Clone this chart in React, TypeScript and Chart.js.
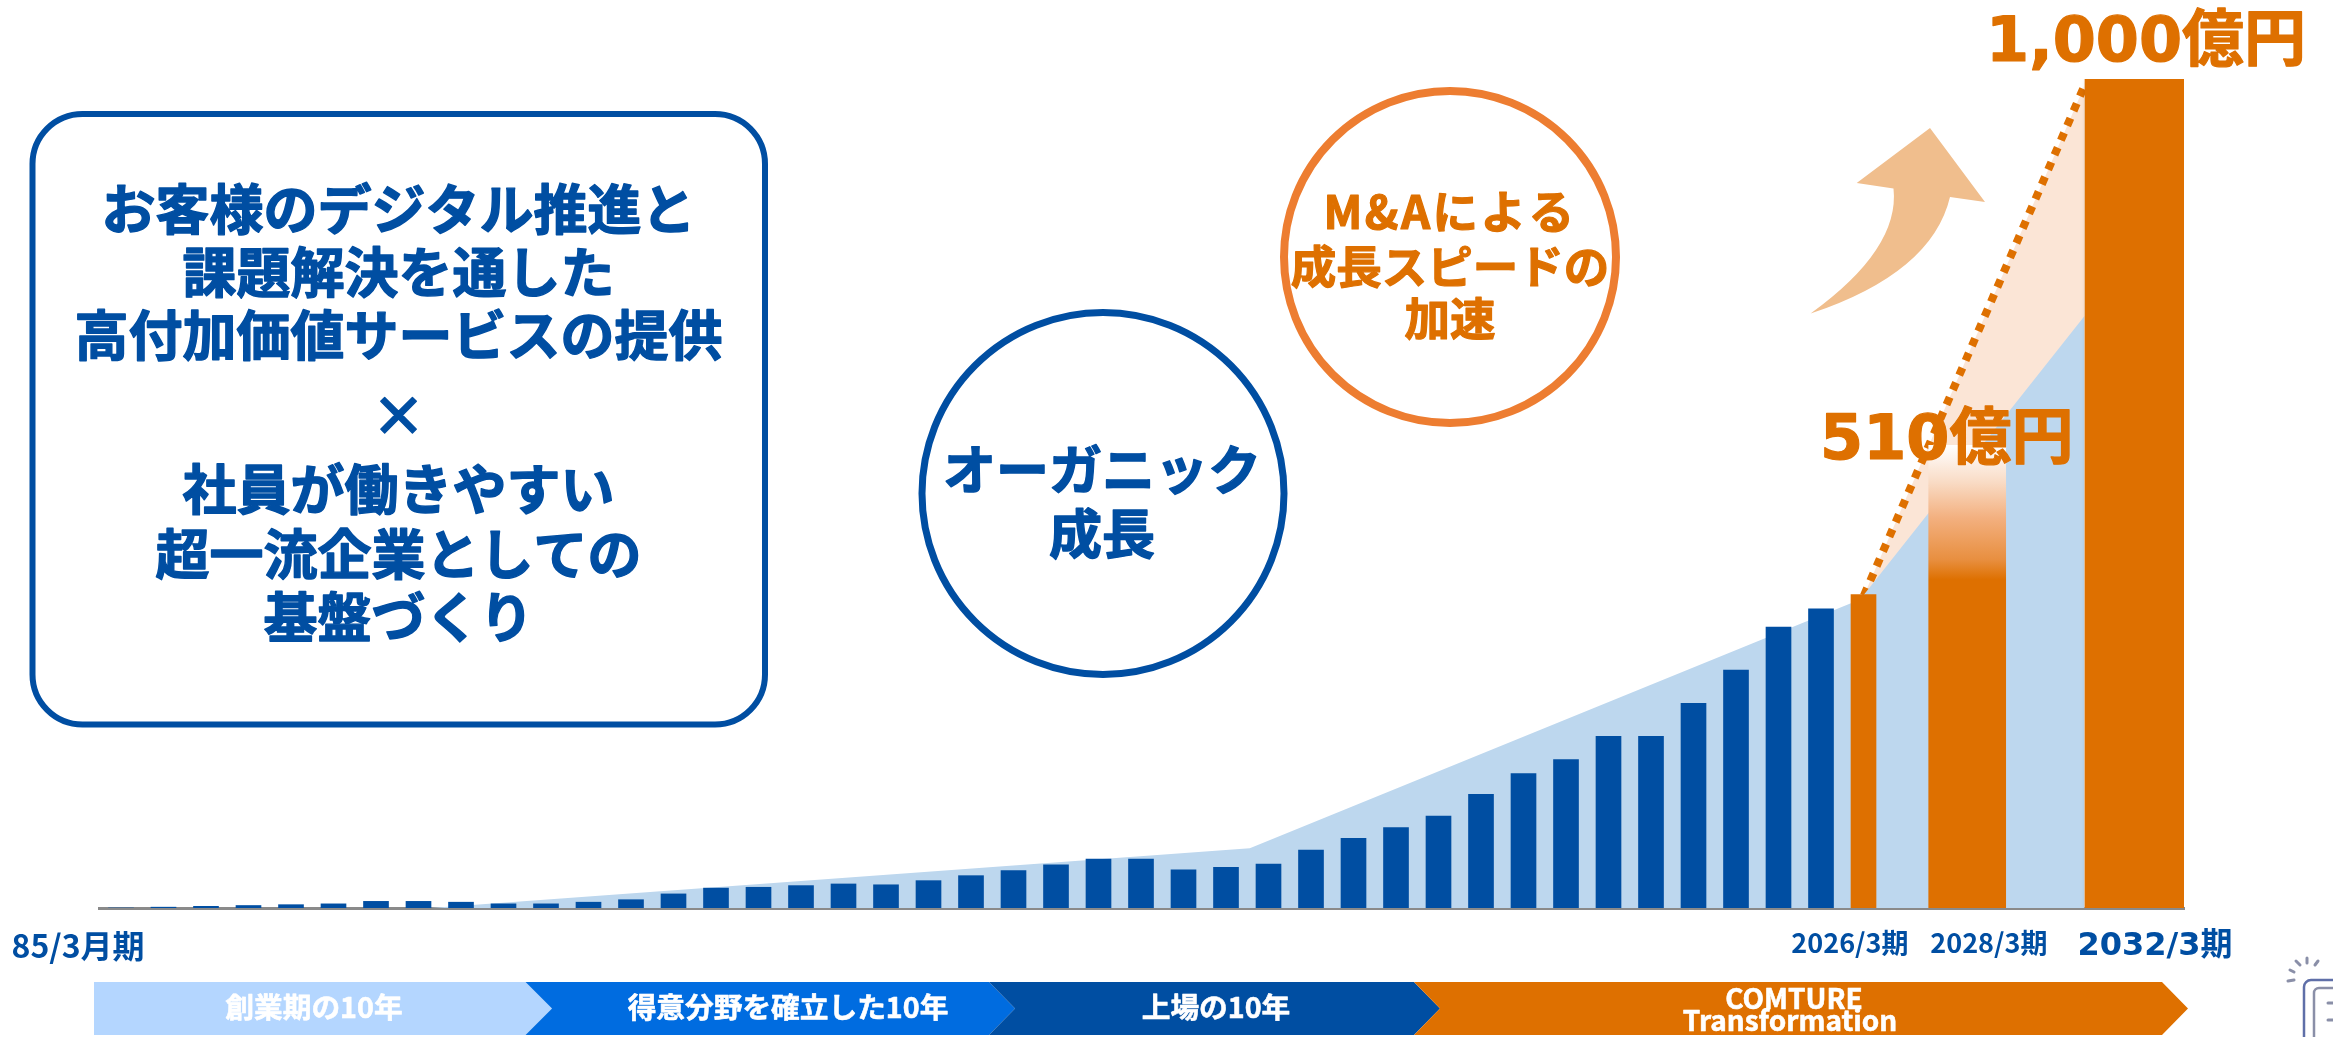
import React, { useEffect, useRef } from "react";
import Chart from "chart.js/auto";

const WIDTH = 2333;
const HEIGHT = 1037;

// Net sales per fiscal year ending in March, 1985 to 2025, in 億円
const fiscalYears = [
  1985, 1986, 1987, 1988, 1989, 1990, 1991, 1992, 1993, 1994, 1995, 1996, 1997, 1998,
  1999, 2000, 2001, 2002, 2003, 2004, 2005, 2006, 2007, 2008, 2009, 2010, 2011, 2012,
  2013, 2014, 2015, 2016, 2017, 2018, 2019, 2020, 2021, 2022, 2023, 2024, 2025,
];
const historicalSales = [
  0, 1, 2, 3, 4, 5, 8, 8, 7, 5, 5, 7, 10, 17,
  24, 25, 27, 29, 28, 33, 39, 45, 52, 59, 59, 46, 49, 53,
  70, 84, 97, 111, 137, 162, 179, 207, 207, 247, 287, 339, 361,
];
const sales2026 = 378;
const target2028 = 510;
const target2032 = 1000;

// Axis slots: one slot per year up to 2026, the years beyond it are compressed
const slot2026 = 41;
const slot2028 = 43.44;
const slot2032 = 47.376;
const axisMinSlot = -0.5176;
const axisMaxSlot = 48.541;

// The soft fade that rises above the 2028 column
const fadeAbove2028 = 48;
const gradientFloor2028 = 396;

// Organic growth band
const organicBandSlots = [7.29, 26.56, 40.92, 46.2];
const organicBandValues = [0, 72, 372, 714];
// M&A growth ramp
const acquisitionRampSlots = [41.01, 46.2];
const acquisitionRampValues = [377, 992];

const periodTickSlots = [-1.01, 40.68, 43.95, 47.86];
const periodTickLabels = ["85/3月期", "2026/3期", "2028/3期", "2032/3期"];

const messageLines = [
  "お客様のデジタル推進と",
  "課題解決を通した",
  "高付加価値サービスの提供",
  "×",
  "社員が働きやすい",
  "超一流企業としての",
  "基盤づくり",
];
const organicLines = ["オーガニック", "成長"];
const acquisitionLines = ["M&Aによる", "成長スピードの", "加速"];
const stageLabels = ["創業期の10年", "得意分野を確立した10年", "上場の10年"];
const transformationLines = ["COMTURE", "Transformation"];
const targetLabels = ["510億円", "1,000億円"];

const BLUE = "#004EA2";
const ORANGE = "#DE7000";
const RING_ORANGE = "#ED7D31";
const LIGHT_BLUE = "#BDD7EE";
const PEACH = "#FBE5D6";
const JP = '"Noto Sans CJK JP"';
const LATIN_JP = '"DejaVu Sans", "Noto Sans CJK JP"';

function fadedColumn(context: any) {
  const y = context.chart.scales.y;
  if (!y) return ORANGE;
  const top = y.getPixelForValue(target2028 + fadeAbove2028);
  const bottom = y.getPixelForValue(gradientFloor2028);
  if (!Number.isFinite(top) || !Number.isFinite(bottom)) return ORANGE;
  const g = context.chart.ctx.createLinearGradient(0, top, 0, bottom);
  g.addColorStop(0, "#FFFFFF");
  g.addColorStop(0.27, "#F9DCC6");
  g.addColorStop(0.54, "#F3B07F");
  g.addColorStop(0.85, "#E88F40");
  g.addColorStop(1, ORANGE);
  return g;
}

function pairs(xs: number[], ys: number[]) {
  return xs.map((x, i) => ({ x, y: ys[i] }));
}

// Heavy headline text: a thin stroke thickens the bold face
function heavyText(ctx: CanvasRenderingContext2D, text: string, x: number, y: number, weight: number) {
  ctx.lineWidth = weight;
  ctx.lineJoin = "round";
  ctx.strokeText(text, x, y);
  ctx.fillText(text, x, y);
}

function chevron(
  ctx: CanvasRenderingContext2D,
  left: number,
  notch: number,
  right: number,
  tip: number,
  color: string,
) {
  const top = 982;
  const bottom = 1035;
  const mid = (top + bottom) / 2;
  ctx.fillStyle = color;
  ctx.beginPath();
  ctx.moveTo(left, top);
  ctx.lineTo(right, top);
  ctx.lineTo(tip, mid);
  ctx.lineTo(right, bottom);
  ctx.lineTo(left, bottom);
  if (notch > left) ctx.lineTo(notch, mid);
  ctx.closePath();
  ctx.fill();
}

// Callout box, growth rings, target labels, arrow and the stage ribbon
const overlayPlugin = {
  id: "overlay",
  afterDatasetsDraw(chart: any) {
    const ctx: CanvasRenderingContext2D = chart.ctx;
    ctx.save();

    ctx.strokeStyle = BLUE;
    ctx.lineWidth = 6;
    ctx.beginPath();
    ctx.roundRect(32.5, 114, 732.5, 610.5, 50);
    ctx.stroke();

    ctx.textAlign = "center";
    ctx.textBaseline = "middle";
    ctx.fillStyle = BLUE;
    ctx.font = `bold 54px ${JP}`;
    const messageRows = [209, 272, 335, 415, 489, 554, 617];
    messageLines.forEach((line, i) => heavyText(ctx, line, 398.5, messageRows[i], 1.4));

    ctx.lineWidth = 7;
    ctx.beginPath();
    ctx.arc(1103, 493.5, 181, 0, Math.PI * 2);
    ctx.stroke();
    ctx.font = `bold 53px ${JP}`;
    const organicRows = [470, 534];
    organicLines.forEach((line, i) => heavyText(ctx, line, 1102, organicRows[i], 1.4));

    ctx.strokeStyle = RING_ORANGE;
    ctx.lineWidth = 8;
    ctx.beginPath();
    ctx.arc(1450, 257, 166, 0, Math.PI * 2);
    ctx.stroke();
    ctx.fillStyle = ORANGE;
    ctx.strokeStyle = ORANGE;
    ctx.font = `bold 45.5px ${JP}`;
    const acquisitionRows = [212, 267, 319];
    acquisitionLines.forEach((line, i) => {
      (ctx as any).letterSpacing = i === 0 ? "2.5px" : "0px";
      heavyText(ctx, line, 1450, acquisitionRows[i], 1.2);
    });
    (ctx as any).letterSpacing = "0px";

    ctx.fillStyle = "#F0BE8D";
    ctx.beginPath();
    ctx.moveTo(1930, 128);
    ctx.lineTo(1985, 202);
    ctx.lineTo(1950, 197);
    ctx.quadraticCurveTo(1932, 273, 1810.6, 313.6);
    ctx.quadraticCurveTo(1900, 249, 1893.5, 188.6);
    ctx.lineTo(1856.7, 183);
    ctx.closePath();
    ctx.fill();

    ctx.fillStyle = ORANGE;
    ctx.textAlign = "left";
    ctx.textBaseline = "alphabetic";
    ctx.font = `bold 62px ${LATIN_JP}`;
    heavyText(ctx, targetLabels[0], 1820, 459, 1.2);
    heavyText(ctx, targetLabels[1], 1986, 61, 1.2);

    chevron(ctx, 94, 94, 525.5, 552, "#B4D6FF");
    chevron(ctx, 525.5, 552, 989, 1015, "#006CE0");
    chevron(ctx, 989, 1015, 1414, 1440, BLUE);
    chevron(ctx, 1414, 1440, 2162, 2188, ORANGE);

    ctx.fillStyle = "#FFFFFF";
    ctx.strokeStyle = "#FFFFFF";
    ctx.textAlign = "center";
    ctx.textBaseline = "middle";
    ctx.font = `bold 28.7px ${JP}`;
    heavyText(ctx, stageLabels[0], 314, 1007, 0.6);
    heavyText(ctx, stageLabels[1], 788, 1007, 0.6);
    heavyText(ctx, stageLabels[2], 1216, 1007, 0.6);
    ctx.font = `bold 28px ${JP}`;
    heavyText(ctx, transformationLines[0], 1794, 998, 0.6);
    heavyText(ctx, transformationLines[1], 1790, 1020, 0.6);

    // Partly visible emblem at the page corner
    ctx.strokeStyle = "#5F6FA8";
    ctx.lineWidth = 2.5;
    ctx.beginPath();
    ctx.roundRect(2304, 980, 60, 90, 7);
    ctx.stroke();
    ctx.strokeStyle = "#8A8FA8";
    ctx.beginPath();
    ctx.roundRect(2314, 988, 50, 70, 5);
    ctx.stroke();
    ctx.lineWidth = 3;
    ctx.lineCap = "round";
    [
      [2296, 961, 2300, 965],
      [2307, 958, 2307, 963],
      [2318, 961, 2315, 965],
      [2290, 970, 2294, 972],
      [2288, 981, 2294, 980],
      [2328, 1003, 2333, 1003],
      [2328, 1020, 2333, 1020],
    ].forEach(([a, b, c, d]) => {
      ctx.beginPath();
      ctx.moveTo(a, b);
      ctx.lineTo(c, d);
      ctx.stroke();
    });

    ctx.restore();
  },
};

// A faint drop shadow behind the 2032 column
const columnShadowPlugin = {
  id: "columnShadow",
  beforeDatasetDraw(chart: any, args: any) {
    if (chart.data.datasets[args.index].label !== "2032") return;
    const ctx = chart.ctx;
    ctx.save();
    ctx.shadowColor = "rgba(0,0,0,0.4)";
    ctx.shadowBlur = 6;
    ctx.shadowOffsetX = 3;
    ctx.shadowOffsetY = 1;
  },
  afterDatasetDraw(chart: any, args: any) {
    if (chart.data.datasets[args.index].label !== "2032") return;
    chart.ctx.restore();
  },
};

export default function App() {
  const ref = useRef<HTMLCanvasElement>(null);

  useEffect(() => {
    document.body.style.margin = "0";
    const bars = { type: "bar" as const, grouped: false, stack: "sales", borderWidth: 0, order: 1 };
    const chart = new Chart(ref.current!, {
      data: {
        datasets: [
          {
            ...bars,
            label: "実績",
            barThickness: 25,
            backgroundColor: BLUE,
            data: pairs(fiscalYears.map((_, i) => i), historicalSales),
          },
          {
            ...bars,
            label: "2026",
            barThickness: 25,
            backgroundColor: ORANGE,
            data: [{ x: slot2026, y: sales2026 }],
          },
          {
            ...bars,
            label: "2028",
            barThickness: 77,
            backgroundColor: fadedColumn,
            data: [{ x: slot2028, y: target2028 }],
          },
          {
            ...bars,
            label: "2028 fade",
            barThickness: 77,
            backgroundColor: fadedColumn,
            data: [{ x: slot2028, y: fadeAbove2028 }],
          },
          {
            ...bars,
            label: "2032",
            barThickness: 99,
            backgroundColor: ORANGE,
            data: [{ x: slot2032, y: target2032 }],
          },
          {
            type: "line" as const,
            label: "organic",
            order: 2,
            data: pairs(organicBandSlots, organicBandValues),
            borderWidth: 0,
            pointRadius: 0,
            tension: 0,
            fill: "origin",
            backgroundColor: LIGHT_BLUE,
          },
          {
            type: "line" as const,
            label: "acquisition",
            order: 3,
            data: pairs(acquisitionRampSlots, acquisitionRampValues),
            borderColor: ORANGE,
            borderWidth: 8,
            borderDash: [8, 8],
            pointRadius: 0,
            tension: 0,
            fill: "origin",
            backgroundColor: PEACH,
          },
        ],
      },
      options: {
        responsive: false,
        animation: false,
        layout: { padding: { top: 79, left: 99, right: 149, bottom: 69 } },
        plugins: { legend: { display: false }, tooltip: { enabled: false } },
        scales: {
          x: {
            type: "linear",
            offset: false,
            min: axisMinSlot,
            max: axisMaxSlot,
            grid: { display: false, offset: false },
            border: { display: true, color: "#8A8A8A", width: 3 },
            afterBuildTicks(scale: any) {
              scale.ticks = periodTickSlots.map((value) => ({ value }));
            },
            afterFit(scale: any) {
              scale.height = 60;
              scale.paddingLeft = 0;
              scale.paddingRight = 0;
            },
            ticks: {
              autoSkip: false,
              maxRotation: 0,
              minRotation: 0,
              padding: 11,
              color: BLUE,
              callback: (_: any, i: number) => periodTickLabels[i],
              font: (c: any) =>
                c.index === 3
                  ? { family: LATIN_JP, size: 32, weight: "bold" }
                  : { family: JP, size: c.index === 0 ? 32 : 27, weight: "bold" },
            },
          },
          y: { display: false, min: 0, max: 1000 },
        },
      },
      plugins: [columnShadowPlugin, overlayPlugin],
    } as any);
    return () => chart.destroy();
  }, []);

  return <canvas ref={ref} width={WIDTH} height={HEIGHT} style={{ display: "block" }} />;
}
